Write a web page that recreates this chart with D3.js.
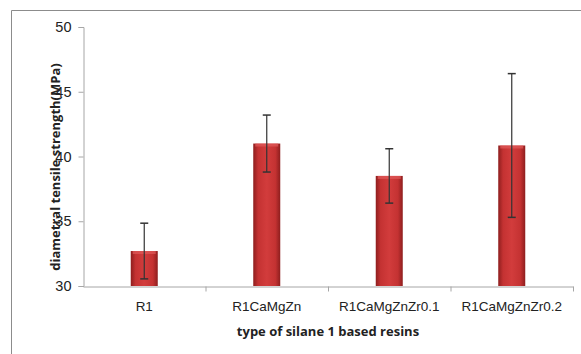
<!DOCTYPE html>
<html>
<head>
<meta charset="utf-8">
<script src="https://cdn.jsdelivr.net/npm/d3@7"></script>
<style>
  body { margin: 0; background: #fff; }
  svg { display: block; font-family: "Open Sans", "Noto Sans", sans-serif; }
</style>
</head>
<body>
<div id="chart"></div>
<script>
const categories = ["R1", "R1CaMgZn", "R1CaMgZnZr0.1", "R1CaMgZnZr0.2"];
const means = [32.7, 41.0, 38.5, 40.85];
const errors = [2.15, 2.2, 2.1, 5.55];
const yTicks = [30, 35, 40, 45, 50];

const FWIDTH = 581, FHEIGHT = 354;
const MARGIN = { LEFT: 83, RIGHT: 8, TOP: 27, BOTTOM: 68 };
const WIDTH = FWIDTH - MARGIN.LEFT - MARGIN.RIGHT;
const HEIGHT = FHEIGHT - MARGIN.TOP - MARGIN.BOTTOM;

const svg = d3.select("#chart").append("svg")
  .attr("width", FWIDTH)
  .attr("height", FHEIGHT);

// outer chart frame (left + top edges visible)
svg.append("path")
  .attr("d", `M11.5,${FHEIGHT} V10.5 H${FWIDTH}`)
  .attr("fill", "none")
  .attr("stroke", "#8c8c8c")
  .attr("stroke-width", 1);

const defs = svg.append("defs");
const grad = defs.append("linearGradient").attr("id", "barGrad")
  .attr("x1", "0%").attr("x2", "100%").attr("y1", "0%").attr("y2", "0%");
grad.append("stop").attr("offset", "0%").attr("stop-color", "#8e1e1e");
grad.append("stop").attr("offset", "18%").attr("stop-color", "#c43232");
grad.append("stop").attr("offset", "50%").attr("stop-color", "#d23c3c");
grad.append("stop").attr("offset", "82%").attr("stop-color", "#c43232");
grad.append("stop").attr("offset", "100%").attr("stop-color", "#8e1e1e");

const g = svg.append("g")
  .attr("transform", `translate(${MARGIN.LEFT}, ${MARGIN.TOP})`);

const x = d3.scaleBand().domain(categories).range([0, WIDTH]).paddingInner(0).paddingOuter(0);
const y = d3.scaleLinear().domain([30, 50]).range([HEIGHT, 0]);

// y axis
const yAxis = g.append("g").attr("transform", "translate(0.5,0)")
  .call(d3.axisLeft(y).tickValues(yTicks).tickSize(5).tickPadding(7));
yAxis.select(".domain").attr("stroke", "#a6a6a6");
yAxis.selectAll(".tick line").attr("stroke", "#a6a6a6");
yAxis.selectAll(".tick text").attr("fill", "#222").style("font-size", "14.5px");

// bars
const barW = 27;
g.selectAll("rect.bar")
  .data(means)
  .enter()
  .append("rect")
  .attr("class", "bar")
  .attr("x", (d, i) => x(categories[i]) + x.bandwidth() / 2 - barW / 2)
  .attr("y", d => y(d))
  .attr("width", barW)
  .attr("height", d => HEIGHT - y(d))
  .attr("fill", "url(#barGrad)");

// top bevel highlight
g.selectAll("rect.bevel")
  .data(means)
  .enter()
  .append("rect")
  .attr("class", "bevel")
  .attr("x", (d, i) => x(categories[i]) + x.bandwidth() / 2 - barW / 2 + 2)
  .attr("y", d => y(d))
  .attr("width", barW - 4)
  .attr("height", 3)
  .attr("fill", "#e05a5a")
  .attr("opacity", 0.7);

// x axis
const xAxis = g.append("g").attr("transform", `translate(0,${HEIGHT + 0.5})`)
  .call(d3.axisBottom(x).tickSize(0).tickPadding(15));
xAxis.select(".domain").attr("stroke", "#a6a6a6");
xAxis.selectAll(".tick text").attr("fill", "#222").style("font-size", "13.5px");
// category boundary ticks
xAxis.selectAll("line.sep")
  .data(categories)
  .enter()
  .append("line")
  .attr("class", "sep")
  .attr("x1", d => x(d) + x.bandwidth() + 0.5)
  .attr("x2", d => x(d) + x.bandwidth() + 0.5)
  .attr("y1", 0)
  .attr("y2", 5)
  .attr("stroke", "#a6a6a6");

// error bars
const eb = g.selectAll("g.err")
  .data(means)
  .enter()
  .append("g")
  .attr("class", "err")
  .attr("transform", (d, i) => `translate(${x(categories[i]) + x.bandwidth() / 2},0)`);
eb.append("line")
  .attr("x1", 0).attr("x2", 0)
  .attr("y1", (d, i) => y(d + errors[i]))
  .attr("y2", (d, i) => y(d - errors[i]))
  .attr("stroke", "#333").attr("stroke-width", 1.2);
eb.append("line")
  .attr("x1", -4).attr("x2", 4)
  .attr("y1", (d, i) => y(d + errors[i]))
  .attr("y2", (d, i) => y(d + errors[i]))
  .attr("stroke", "#333").attr("stroke-width", 1.5);
eb.append("line")
  .attr("x1", -4).attr("x2", 4)
  .attr("y1", (d, i) => y(d - errors[i]))
  .attr("y2", (d, i) => y(d - errors[i]))
  .attr("stroke", "#333").attr("stroke-width", 1.5);

// axis titles
svg.append("text")
  .attr("transform", `translate(60, 167) rotate(-90)`)
  .attr("text-anchor", "middle")
  .style("font-size", "13px")
  .style("font-weight", "bold")
  .attr("fill", "#222")
  .text("diametral tensile strength(MPa)");

svg.append("text")
  .attr("x", MARGIN.LEFT + WIDTH / 2)
  .attr("y", 336)
  .attr("text-anchor", "middle")
  .style("font-size", "13px")
  .style("font-weight", "bold")
  .attr("fill", "#222")
  .text("type of silane 1 based resins");
</script>
</body>
</html>
